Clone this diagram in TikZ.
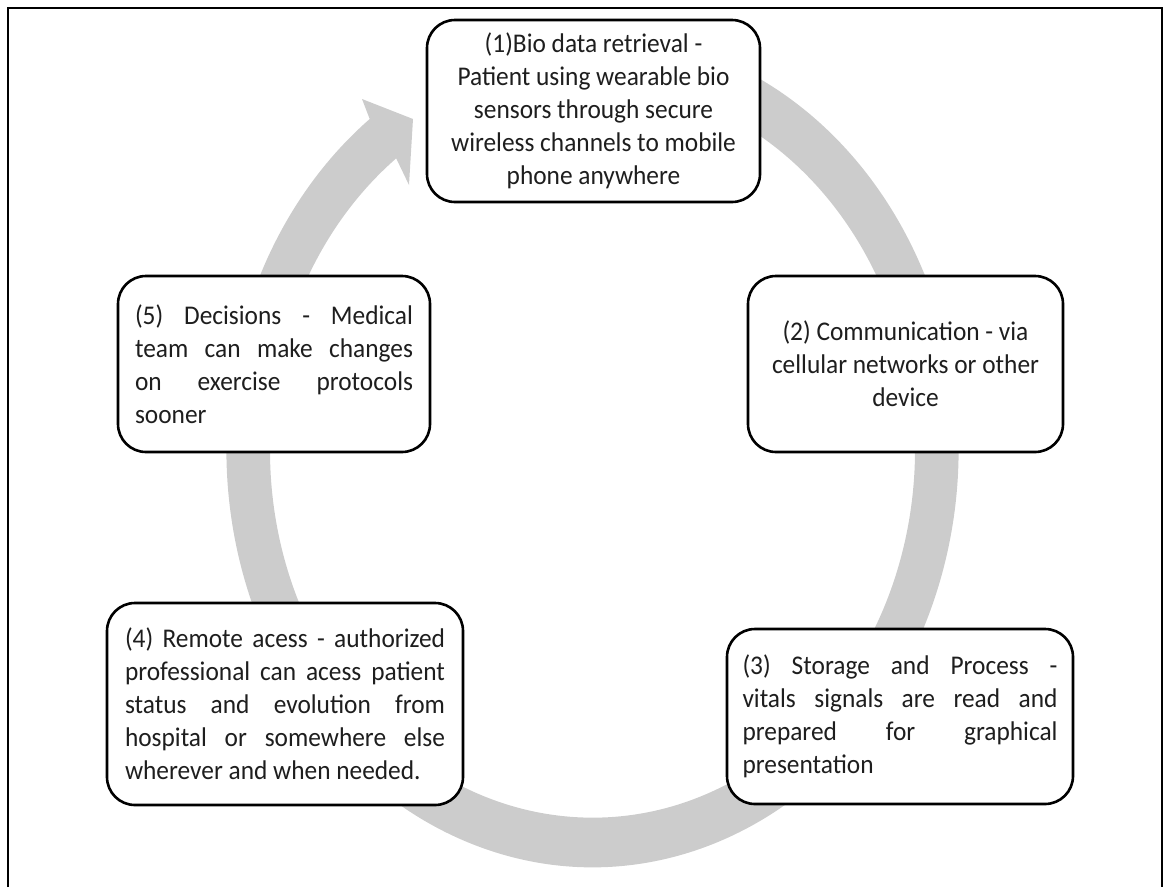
\documentclass[tikz,border=0pt]{standalone}
\usepackage{fontspec}
\setmainfont{Carlito}[FakeStretch=0.94]
\definecolor{ringgray}{RGB}{204,204,204}
\definecolor{txt}{RGB}{30,30,30}
\newcommand{\jl}[1]{\makebox[\hsize][s]{\spaceskip=0pt\xspaceskip=0pt\relax #1}}
\newcommand{\nsp}{\spaceskip=\fontdimen2\font\xspaceskip=\fontdimen2\font\relax}
\hyphenpenalty=10000
\exhyphenpenalty=10000
\tikzset{
  stepbox/.style={draw=black, line width=2.6pt, fill=white, rounded corners=28pt,
    inner sep=0pt, text=txt, font=\fontsize{27}{33}\selectfont},
}
\begin{document}
\begin{tikzpicture}[x=1pt,y=1pt]
\useasboundingbox (0,0) rectangle (1169,-887);
% outer frame
\draw[line width=2.6pt] (8,-887) -- (8,-8) -- (1162,-8) -- (1162,-887);
% circular arrow
\begin{scope}[shift={(592.5,-450)}]
\fill[ringgray] (70:366 and 417.24)
  arc[start angle=70, end angle=-232.5, x radius=366, y radius=417.24]
  -- (-230.5,351) -- (-179.5,331) -- (-183.5,265)
  -- (-232.5:322.5 and 367.65)
  arc[start angle=-232.5, end angle=70, x radius=322.5, y radius=367.65]
  -- cycle;
\end{scope}
% boxes
\node[stepbox, minimum width=333pt, minimum height=182pt, text width=320pt, align=center]
  (b1) at (593.5,-111) {\nsp(1)Bio data retrieval -\\Patient using wearable bio\\sensors through secure\\wireless channels to mobile\\phone anywhere};
\node[stepbox, minimum width=315pt, minimum height=176pt, text width=305pt, align=center]
  (b2) at (905.5,-364) {\nsp(2) Communication - via\\cellular networks or other\\device};
\node[stepbox, minimum width=346pt, minimum height=175pt, text width=315pt, align=justify]
  (b3) at (900,-716.5) {\jl{(3) Storage and Process -}\\\jl{vitals signals are read and}\\\jl{prepared for graphical}\\presentation};
\node[stepbox, minimum width=356pt, minimum height=202pt, text width=320pt, align=justify]
  (b4) at (285,-704) {\jl{(4) Remote acess - authorized}\\\jl{professional can acess patient}\\\jl{status and evolution from}\\\jl{hospital or somewhere else}\\wherever and when needed.};
\node[stepbox, minimum width=312pt, minimum height=176pt, text width=278pt, align=justify]
  (b5) at (274,-364) {\jl{(5) Decisions - Medical}\\\jl{team can make changes}\\\jl{on exercise protocols}\\sooner};
\end{tikzpicture}
\end{document}
